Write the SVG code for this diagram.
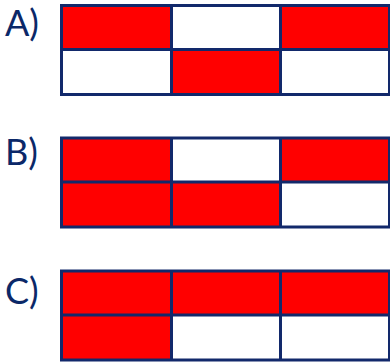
<svg xmlns="http://www.w3.org/2000/svg" width="390" height="363" viewBox="0 0 390 363">
<style>
.r{fill:#FF0000}
.w{fill:#FFFFFF}
.g{fill:none;stroke:#12296B;stroke-width:3}
.l{font-family:Lato,"Open Sans",sans-serif;font-size:36px;fill:#0B2868}
</style>
<rect width="390" height="363" fill="#fff"/>
<g id="gridA">
<rect class="r" x="61.5" y="5.5" width="109.5" height="44"/>
<rect class="w" x="171" y="5.5" width="109.5" height="44"/>
<rect class="r" x="280.5" y="5.5" width="109" height="44"/>
<rect class="w" x="61.5" y="49.5" width="109.5" height="45"/>
<rect class="r" x="171" y="49.5" width="109.5" height="45"/>
<rect class="w" x="280.5" y="49.5" width="109" height="45"/>
<rect class="g" x="61.5" y="5.5" width="328" height="89"/>
<path class="g" d="M61.5 49.5H389.5M171.5 5.5V94.5M280.5 5.5V94.5"/>
<text class="l" x="5" y="36">A)</text>
</g>
<g id="gridB">
<rect class="r" x="61.5" y="138" width="109.5" height="44"/>
<rect class="w" x="171" y="138" width="109.5" height="44"/>
<rect class="r" x="280.5" y="138" width="109" height="44"/>
<rect class="r" x="61.5" y="182" width="109.5" height="45"/>
<rect class="r" x="171" y="182" width="109.5" height="45"/>
<rect class="w" x="280.5" y="182" width="109" height="45"/>
<rect class="g" x="61.5" y="138" width="328" height="89"/>
<path class="g" d="M61.5 182H389.5M171.5 138V227M280.5 138V227"/>
<text class="l" x="5" y="165">B)</text>
</g>
<g id="gridC">
<rect class="r" x="61.5" y="271" width="109.5" height="44"/>
<rect class="r" x="171" y="271" width="109.5" height="44"/>
<rect class="r" x="280.5" y="271" width="109" height="44"/>
<rect class="r" x="61.5" y="315" width="109.5" height="45"/>
<rect class="w" x="171" y="315" width="109.5" height="45"/>
<rect class="w" x="280.5" y="315" width="109" height="45"/>
<rect class="g" x="61.5" y="271" width="328" height="89"/>
<path class="g" d="M61.5 315H389.5M171.5 271V360M280.5 271V360"/>
<text class="l" x="5" y="304">C)</text>
</g>
<g id="connectors"/>
</svg>
